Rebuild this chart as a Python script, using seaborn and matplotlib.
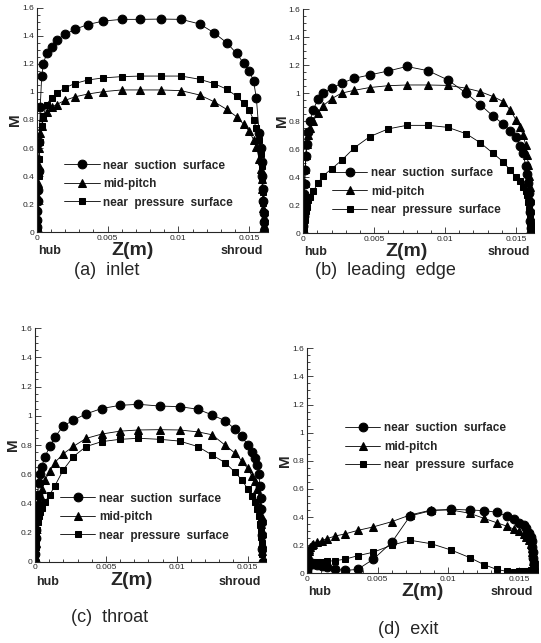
import matplotlib
matplotlib.use("Agg")
import matplotlib.pyplot as plt
import seaborn as sns
from matplotlib.ticker import MultipleLocator, FormatStrFormatter

sns.set_style("ticks")
plt.rcParams["font.family"] = ["Liberation Sans", "DejaVu Sans"]

# posiciones Z (m) de hub a shroud (malla compartida)
Z = [0.0, 0.00001, 0.00002, 0.00004, 0.00006, 0.00009, 0.00013, 0.00018, 0.00025,
     0.00035, 0.00047, 0.0007, 0.00105, 0.0014, 0.002, 0.0027, 0.0036, 0.0047, 0.006,
     0.0073, 0.0088, 0.0102, 0.0115, 0.0125, 0.0134, 0.0141, 0.0146, 0.015, 0.0153,
     0.0155, 0.0157, 0.0158, 0.01587, 0.01593, 0.01597, 0.016, 0.01602, 0.01604, 0.01606]

# (a) inlet
inlet_ss = [0, 0.04, 0.09, 0.15, 0.22, 0.30, 0.44, 0.64, 0.89,
            1.11, 1.20, 1.275, 1.32, 1.37, 1.41, 1.446, 1.48, 1.505, 1.517, 1.517, 1.519, 1.517,
            1.484, 1.422, 1.351, 1.275, 1.204, 1.149, 1.08, 0.954, 0.705,
            0.60, 0.50, 0.40, 0.31, 0.22, 0.14, 0.07, 0.0]
inlet_mp = [0, 0.05, 0.10, 0.17, 0.25, 0.35, 0.47, 0.60, 0.71,
            0.757, 0.82, 0.86, 0.89, 0.91, 0.94, 0.965, 0.985, 1.002, 1.014, 1.014, 1.014, 1.009,
            0.978, 0.931, 0.876, 0.824, 0.77, 0.72, 0.66, 0.61, 0.52,
            0.45, 0.38, 0.31, 0.24, 0.17, 0.11, 0.05, 0.0]
inlet_ps = [0, 0.04, 0.09, 0.15, 0.22, 0.30, 0.40, 0.52, 0.64,
            0.76, 0.83, 0.91, 0.96, 0.99, 1.03, 1.06, 1.085, 1.10, 1.109, 1.113, 1.113, 1.113,
            1.09, 1.06, 1.02, 0.97, 0.92, 0.87, 0.80, 0.74, 0.66,
            0.56, 0.47, 0.38, 0.29, 0.21, 0.14, 0.07, 0.0]

# (b) leading edge
le_ss = [0, 0.05, 0.12, 0.20, 0.28, 0.35, 0.45, 0.55, 0.64,
         0.72, 0.80, 0.88, 0.96, 1.00, 1.035, 1.07, 1.106, 1.13, 1.158, 1.19, 1.16, 1.094,
         0.999, 0.916, 0.835, 0.78, 0.73, 0.685, 0.62, 0.57, 0.48,
         0.42, 0.36, 0.29, 0.22, 0.15, 0.09, 0.04, 0.0]
le_mp = [0, 0.04, 0.10, 0.18, 0.26, 0.36, 0.46, 0.56, 0.64,
         0.70, 0.75, 0.80, 0.86, 0.91, 0.96, 1.00, 1.02, 1.04, 1.053, 1.058, 1.058, 1.055,
         1.035, 1.01, 0.975, 0.94, 0.88, 0.81, 0.76, 0.70, 0.63,
         0.56, 0.49, 0.41, 0.33, 0.25, 0.17, 0.09, 0.0]
le_ps = [0, 0.02, 0.04, 0.06, 0.08, 0.10, 0.13, 0.16, 0.19,
         0.24, 0.26, 0.30, 0.36, 0.41, 0.46, 0.52, 0.61, 0.69, 0.745, 0.77, 0.77, 0.756,
         0.71, 0.645, 0.57, 0.51, 0.45, 0.40, 0.37, 0.33, 0.30,
         0.27, 0.22, 0.17, 0.12, 0.08, 0.05, 0.02, 0.0]

# (c) throat
throat_ss = [0, 0.05, 0.10, 0.16, 0.22, 0.30, 0.38, 0.46, 0.54,
             0.60, 0.65, 0.72, 0.79, 0.855, 0.93, 0.97, 1.013, 1.05, 1.072, 1.079, 1.067, 1.063,
             1.045, 1.006, 0.967, 0.91, 0.86, 0.80, 0.75, 0.71, 0.66,
             0.60, 0.52, 0.44, 0.36, 0.27, 0.18, 0.09, 0.0]
throat_mp = [0, 0.04, 0.08, 0.13, 0.18, 0.24, 0.30, 0.36, 0.42,
             0.46, 0.50, 0.56, 0.62, 0.68, 0.74, 0.79, 0.845, 0.875, 0.895, 0.903, 0.905, 0.903,
             0.89, 0.87, 0.80, 0.745, 0.69, 0.64, 0.59, 0.55, 0.50,
             0.44, 0.38, 0.32, 0.26, 0.20, 0.13, 0.07, 0.0]
throat_ps = [0, 0.03, 0.06, 0.10, 0.14, 0.18, 0.22, 0.27, 0.31,
             0.34, 0.37, 0.41, 0.46, 0.52, 0.63, 0.72, 0.789, 0.823, 0.839, 0.846, 0.839, 0.827,
             0.789, 0.731, 0.68, 0.615, 0.56, 0.50, 0.45, 0.41, 0.36,
             0.31, 0.26, 0.21, 0.17, 0.13, 0.09, 0.05, 0.0]

# (d) exit
exit_ss = [0, 0.02, 0.035, 0.045, 0.055, 0.06, 0.065, 0.07, 0.07,
           0.07, 0.068, 0.062, 0.055, 0.047, 0.03, 0.02, 0.028, 0.10, 0.22, 0.408, 0.446, 0.455,
           0.45, 0.446, 0.434, 0.408, 0.385, 0.36, 0.34, 0.32, 0.29,
           0.26, 0.23, 0.19, 0.15, 0.11, 0.07, 0.035, 0.0]
exit_mp = [0, 0.03, 0.06, 0.09, 0.12, 0.14, 0.16, 0.175, 0.19,
           0.20, 0.21, 0.22, 0.232, 0.245, 0.265, 0.28, 0.305, 0.33, 0.367, 0.415, 0.45, 0.45,
           0.427, 0.391, 0.36, 0.336, 0.315, 0.30, 0.28, 0.26, 0.235,
           0.21, 0.18, 0.15, 0.12, 0.09, 0.06, 0.03, 0.0]
exit_ps = [0, 0.02, 0.04, 0.055, 0.065, 0.072, 0.076, 0.078, 0.08,
           0.08, 0.08, 0.081, 0.082, 0.085, 0.09, 0.10, 0.125, 0.15, 0.20, 0.235, 0.21, 0.165,
           0.112, 0.062, 0.028, 0.014, 0.012, 0.013, 0.015, 0.017, 0.019,
           0.021, 0.023, 0.023, 0.02, 0.016, 0.011, 0.006, 0.0]

series_labels = ["near  suction  surface", "mid-pitch", "near  pressure  surface"]
titles = ["(a)  inlet", "(b)  leading  edge", "(c)  throat", "(d)  exit"]

W, H = 541, 643
fig = plt.figure(figsize=(W / 100, H / 100), dpi=100)

# panel: (izq px, arriba px, ancho px, alto px), leyenda (x, y), Z(m) x, titulo (x, y px)
paneles = [
    dict(rect=(36.7, 7.7, 231, 224.6), data=(inlet_ss, inlet_mp, inlet_ps),
         leg=(0.12, 0.215), zx=0.417, title=(107, 270)),
    dict(rect=(303.3, 9.0, 231, 224.3), data=(le_ss, le_mp, le_ps),
         leg=(0.124, 0.186), zx=0.449, title=(385, 270)),
    dict(rect=(35.0, 328.3, 231, 233.4), data=(throat_ss, throat_mp, throat_ps),
         leg=(0.108, 0.191), zx=0.42, title=(110, 618)),
    dict(rect=(306.7, 348.3, 231, 225.0), data=(exit_ss, exit_mp, exit_ps),
         leg=(0.166, 0.562), zx=0.5, title=(408, 630)),
]

estilos = [dict(marker="o", markersize=6.3),
           dict(marker="^", markersize=5.2),
           dict(marker="s", markersize=4.4)]

for i, p in enumerate(paneles):
    l, t, w, h = p["rect"]
    ax = fig.add_axes([l / W, 1 - (t + h) / H, w / W, h / H])
    for vals, lab, st in zip(p["data"], series_labels, estilos):
        sns.lineplot(x=Z, y=vals, ax=ax, color="black", linewidth=0.6, label=lab,
                     marker=st["marker"], markersize=st["markersize"],
                     markeredgecolor="black", markerfacecolor="black",
                     estimator=None, sort=False)
    ax.set_xlim(0, 0.0163)
    ax.set_ylim(0, 1.6)
    ax.xaxis.set_major_locator(MultipleLocator(0.005))
    ax.xaxis.set_minor_locator(MultipleLocator(0.001))
    ax.yaxis.set_major_locator(MultipleLocator(0.2))
    ax.yaxis.set_minor_locator(MultipleLocator(0.05))
    ax.xaxis.set_major_formatter(FormatStrFormatter("%g"))
    ax.yaxis.set_major_formatter(FormatStrFormatter("%g"))
    ax.tick_params(which="both", direction="in", labelsize=6, width=0.6, pad=2)
    ax.tick_params(which="major", length=4)
    ax.tick_params(which="minor", length=2)
    sns.despine(ax=ax)
    for s in ("left", "bottom"):
        ax.spines[s].set_linewidth(0.8)
    ax.set_xlabel("")
    ax.set_ylabel("M", fontsize=11, fontweight="bold", labelpad=0)

    ax.text(0.005, -0.085, "hub", transform=ax.transAxes, ha="left", va="center",
            fontsize=9, fontweight="bold")
    ax.text(p["zx"], -0.082, "Z(m)", transform=ax.transAxes, ha="center", va="center",
            fontsize=14, fontweight="bold")
    ax.text(0.98, -0.085, "shroud", transform=ax.transAxes, ha="right", va="center",
            fontsize=9, fontweight="bold")

    ax.legend(loc="center left", bbox_to_anchor=p["leg"], frameon=False,
              prop=dict(size=8.5, weight="bold"), handlelength=3.0,
              handletextpad=0.3, labelspacing=0.55, borderpad=0, borderaxespad=0)

    tx, ty = p["title"]
    fig.text(tx / W, 1 - ty / H, titles[i], ha="center", va="center", fontsize=13)

plt.savefig("out.png", dpi=100)
plt.close()
